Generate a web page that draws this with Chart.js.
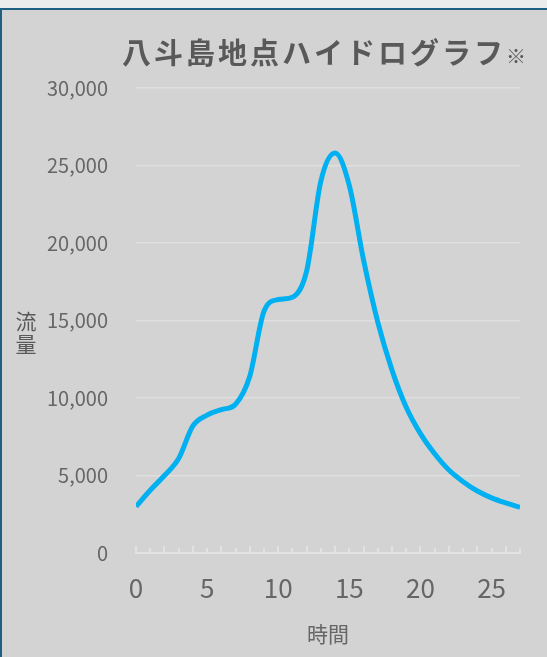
<!DOCTYPE html>
<html>
<head>
<meta charset="utf-8">
<script src="https://cdn.jsdelivr.net/npm/chart.js@4/dist/chart.umd.min.js"></script>
<style>
  html, body { margin: 0; padding: 0; background: #ededed; }
  #wrap { position: relative; width: 547px; height: 657px; }
  canvas { background: #d3d3d3; }
  .edge-top { position: absolute; left: 0; top: 0; width: 547px; height: 8px; background: #ececec; }
  .edge-line { position: absolute; left: 0; top: 8px; width: 547px; height: 2px; background: #1f5f80; }
  .edge-left { position: absolute; left: 0; top: 8px; width: 2px; height: 649px; background: #1f5f80; }
</style>
</head>
<body>
<div id="wrap">
  <canvas id="hydro" width="547" height="657"></canvas>
  <div class="edge-top"></div>
  <div class="edge-line"></div>
  <div class="edge-left"></div>
</div>
<script>
// 時間 (h) と 流量
var hours = [0, 1, 2, 3, 4, 5, 6, 7, 8, 9, 10, 11, 12, 13,
             14, 15, 16, 17, 18, 19, 20, 21, 22, 23, 24, 25, 26, 27];
var flow = [3000, 4050, 5000, 6100, 8200, 8900, 9250, 9600, 11400, 15600, 16350, 16500, 18200, 24000,
            25800, 23700, 18900, 14900, 11800, 9400, 7700, 6400, 5350, 4600, 4000, 3560, 3230, 2950];
var yTicks = [0, 5000, 10000, 15000, 20000, 25000, 30000];
var titleText = '八斗島地点ハイドログラフ';
var titleMark = '※';
var xTitle = '時間';
var yTitleChars = ['流', '量'];

var points = hours.map(function (h, i) { return { x: h, y: flow[i] }; });

// 横軸の内向き目盛
var hourTicks = {
    id: 'hourTicks',
    afterDatasetsDraw: function (chart) {
        var ctx = chart.ctx;
        var xs = chart.scales.x;
        var bottom = chart.chartArea.bottom;
        ctx.save();
        ctx.strokeStyle = '#e2e2e2';
        ctx.lineWidth = 2;
        hours.forEach(function (h) {
            var px = Math.round(xs.getPixelForValue(h));
            ctx.beginPath();
            ctx.moveTo(px, bottom);
            ctx.lineTo(px, bottom - (h % 2 === 0 ? 7 : 5));
            ctx.stroke();
        });
        ctx.restore();
    }
};

// タイトルと縦書きの軸ラベル
var labels = {
    id: 'labels',
    afterDraw: function (chart) {
        var ctx = chart.ctx;
        ctx.save();
        ctx.fillStyle = '#595959';
        ctx.textBaseline = 'middle';
        ctx.font = 'bold 29px "Noto Sans CJK JP"';
        ctx.letterSpacing = '3px';
        ctx.textAlign = 'left';
        ctx.fillText(titleText, 122, 53);
        var w = ctx.measureText(titleText).width;
        ctx.letterSpacing = '0px';
        ctx.font = '20px "Noto Sans CJK JP"';
        ctx.fillText(titleMark, 122 + w, 56);

        ctx.font = '21px "Noto Sans CJK JP"';
        ctx.textAlign = 'center';
        yTitleChars.forEach(function (c, i) {
            ctx.fillText(c, 26, 321 + i * 23);
        });
        ctx.restore();
    }
};

var ctx = document.getElementById('hydro').getContext('2d');
var chart = new Chart(ctx, {
    type: 'line',
    data: {
        datasets: [{
            data: points,
            borderColor: '#00b0f0',
            borderWidth: 5,
            pointRadius: 0,
            cubicInterpolationMode: 'monotone',
            fill: false
        }]
    },
    options: {
        animation: false,
        responsive: false,
        layout: { padding: { top: 88, right: 27, left: 0, bottom: 0 } },
        plugins: {
            legend: { display: false },
            tooltip: { enabled: false },
            title: { display: false }
        },
        scales: {
            x: {
                type: 'linear',
                min: 0,
                max: 27,
                afterFit: function (s) { s.height = 104; },
                grid: { display: false, drawTicks: false },
                border: { display: true, color: '#e2e2e2', width: 2 },
                ticks: {
                    stepSize: 5,
                    includeBounds: false,
                    padding: 20,
                    color: '#666666',
                    font: { family: '"Noto Sans CJK JP"', size: 26 }
                },
                title: {
                    display: true,
                    text: xTitle,
                    color: '#666666',
                    padding: { top: 0, bottom: 10 },
                    font: { family: '"Noto Sans CJK JP"', size: 21 }
                }
            },
            y: {
                min: 0,
                max: 30000,
                afterFit: function (s) { s.width = 136; },
                afterBuildTicks: function (s) {
                    s.ticks = yTicks.map(function (v) { return { value: v }; });
                },
                grid: { color: '#dfdfdf', lineWidth: 1.5, drawTicks: false },
                border: { display: false },
                ticks: {
                    padding: 28,
                    color: '#666666',
                    font: { family: '"Noto Sans CJK JP"', size: 20 }
                }
            }
        }
    },
    plugins: [hourTicks, labels]
});
</script>
</body>
</html>
